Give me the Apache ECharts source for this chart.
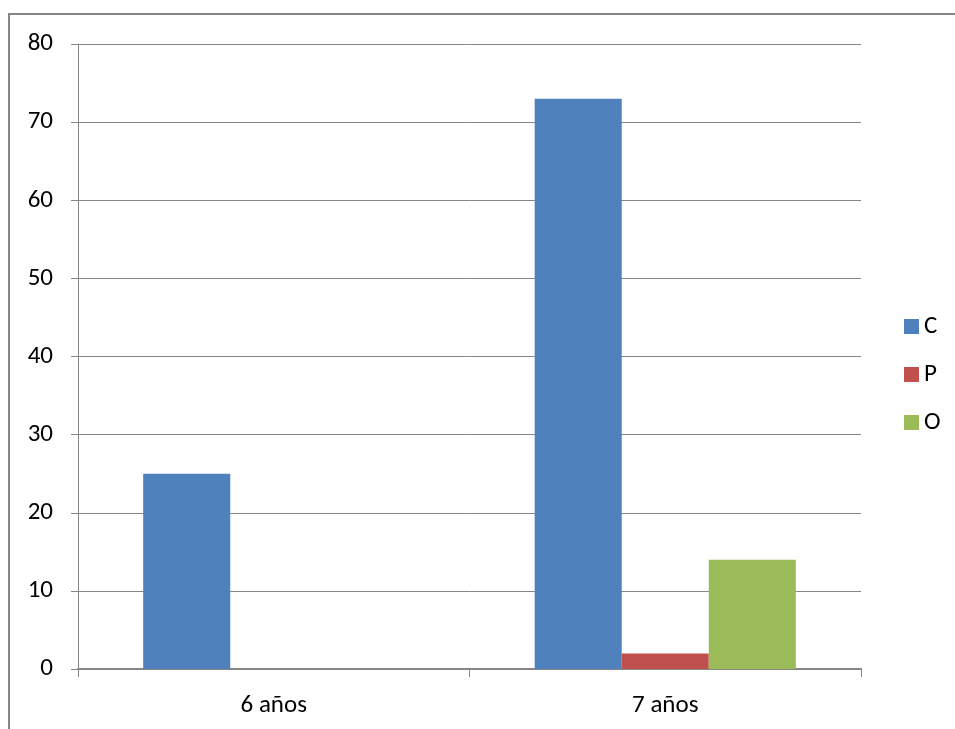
<!DOCTYPE html>
<html>
<head>
<meta charset="utf-8">
<script src="https://cdn.jsdelivr.net/npm/echarts@6/dist/echarts.min.js"></script>
<style>
  html, body { margin: 0; padding: 0; background: #fff; }
  #chart { width: 955px; height: 729px; }
</style>
</head>
<body>
<div id="chart"></div>
<script>
// Age groups and counts per response type
const categories = ['6 años', '7 años'];
const seriesNames = ['C', 'P', 'O'];
const valuesC = [25, 73];
const valuesP = [0, 2];
const valuesO = [0, 14];
const yTicks = [0, 10, 20, 30, 40, 50, 60, 70, 80];

const colors = ['#4F81BD', '#C0504D', '#9BBB59'];
const gray = '#868686';
const font = 'Carlito, Calibri, "Liberation Sans", sans-serif';
const fontSize = 25;

const chart = echarts.init(document.getElementById('chart'), null, { renderer: 'canvas' });

const seriesData = [valuesC, valuesP, valuesO];

chart.setOption({
  animation: false,
  backgroundColor: '#ffffff',
  textStyle: { fontFamily: font, color: '#000' },
  graphic: [{
    type: 'rect',
    shape: { x: 9, y: 14, width: 960, height: 730 },
    style: { fill: 'none', stroke: gray, lineWidth: 2 },
    silent: true
  }],
  grid: { left: 78, right: 94, top: 44, bottom: 60, containLabel: false },
  legend: {
    orient: 'vertical',
    left: 904,
    top: 314,
    padding: 0,
    itemWidth: 15,
    itemHeight: 15,
    itemGap: 23,
    icon: 'rect',
    data: seriesNames,
    textStyle: { fontFamily: font, fontSize: fontSize, color: '#000', lineHeight: 25 }
  },
  xAxis: {
    type: 'category',
    data: categories,
    axisLine: { lineStyle: { color: gray, width: 2 } },
    axisTick: { show: true, length: 8, lineStyle: { color: gray, width: 1 } },
    axisLabel: { fontFamily: font, fontSize: fontSize, color: '#000', margin: 24 },
    splitLine: { show: false }
  },
  yAxis: {
    type: 'value',
    min: yTicks[0],
    max: yTicks[yTicks.length - 1],
    interval: 10,
    axisLine: { show: true, lineStyle: { color: gray, width: 1 } },
    axisTick: { show: true, length: 7, lineStyle: { color: gray } },
    axisLabel: { fontFamily: font, fontSize: fontSize, color: '#000', margin: 25 },
    splitLine: { show: true, lineStyle: { color: gray, width: 1 } }
  },
  series: seriesNames.map((name, i) => ({
    name: name,
    type: 'bar',
    data: seriesData[i],
    barGap: '0%',
    barCategoryGap: '33.3%',
    itemStyle: { color: colors[i] }
  }))
});
</script>
</body>
</html>
